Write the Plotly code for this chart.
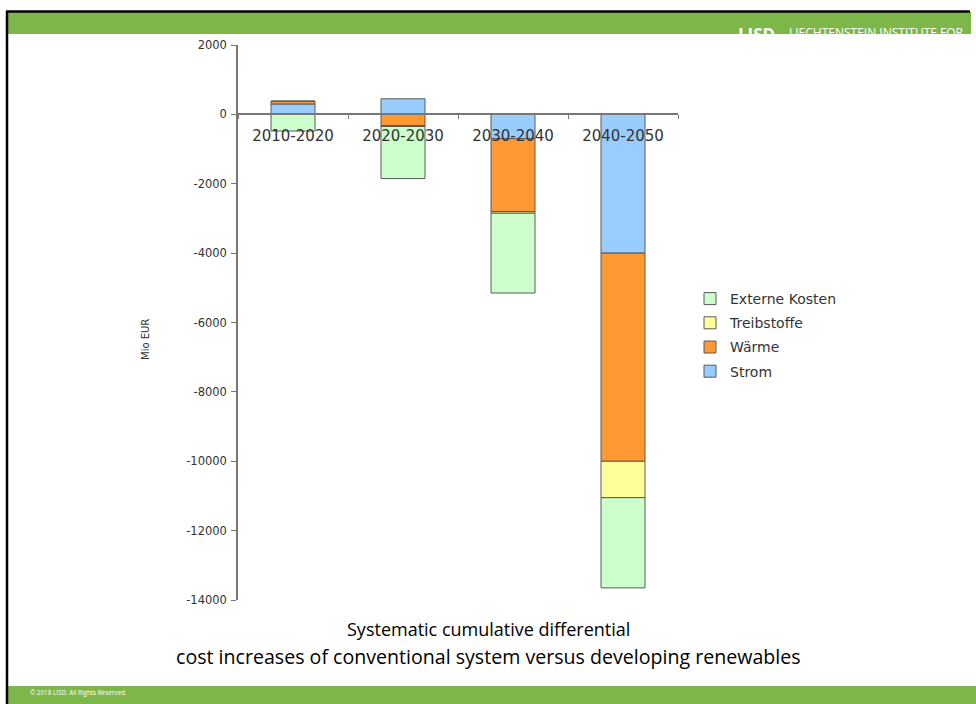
import plotly.graph_objects as go

W, H = 976, 704
ML, MR, MT, MB = 238, 298, 45, 104

categories = ["2010-2020", "2020-2030", "2030-2040", "2040-2050"]
series_names = ["Strom", "Wärme", "Treibstoffe", "Externe Kosten"]
strom = [300, 450, -700, -4000]
waerme = [80, -320, -2100, -6000]
treibstoffe = [0, -30, -50, -1050]
externe = [-480, -1500, -2300, -2600]
colors = ["#99CCFF", "#FF9933", "#FFFF99", "#CCFFCC"]
ytickvals = [2000, 0, -2000, -4000, -6000, -8000, -10000, -12000, -14000]
yticktext = ["2000", "0", "-2000", "-4000", "-6000", "-8000", "-10000", "-12000", "-14000"]

PW = W - ML - MR
PH = H - MT - MB


def px(x):
    return (x - ML) / PW


def py(y):
    return (H - MB - y) / PH


fig = go.Figure()
n = len(series_names)
for i, (name, vals, col) in enumerate(zip(series_names, [strom, waerme, treibstoffe, externe], colors)):
    fig.add_trace(go.Bar(
        x=categories, y=vals, name=name, legendgroup=name, legendrank=n - i,
        marker=dict(color=col, line=dict(color="#5a5a5a", width=1)),
    ))

fig.update_layout(
    width=W, height=H,
    margin=dict(l=ML, r=MR, t=MT, b=MB),
    paper_bgcolor="white", plot_bgcolor="white",
    barmode="relative", bargap=0.6,
    showlegend=True,
    legend=dict(
        traceorder="grouped", tracegroupgap=3,
        x=px(690), y=py(283), xanchor="left", yanchor="top",
        font=dict(family="DejaVu Sans", size=14, color="#333333"),
        bgcolor="rgba(0,0,0,0)", itemwidth=30,
    ),
    font=dict(family="DejaVu Sans", color="#333333"),
    xaxis=dict(
        type="category", range=[-0.5, 3.5], anchor="free", position=14000 / 16000,
        showline=True, linecolor="#777777", linewidth=1.5,
        ticks="outside", tickson="boundaries", ticklen=4, tickcolor="#777777",
        showgrid=False, tickfont=dict(family="DejaVu Sans", size=15, color="#333333"),
        ticklabelstandoff=8,
        layer="above traces",
    ),
    yaxis=dict(
        range=[-14000, 2000], tickvals=ytickvals, ticktext=yticktext,
        showline=True, linecolor="#777777", linewidth=1.5,
        ticks="outside", ticklen=5, tickcolor="#777777", showgrid=False, zeroline=False,
        tickfont=dict(family="DejaVu Sans", size=11.5, color="#333333"),
        ticklabelstandoff=2,
    ),
)

shapes = []
# top green bar
shapes.append(dict(type="rect", xref="paper", yref="paper", x0=px(8), x1=px(971), y0=py(34), y1=py(12),
                   fillcolor="#7EB749", line=dict(width=0), layer="below"))
# bottom green bar
shapes.append(dict(type="rect", xref="paper", yref="paper", x0=px(8), x1=px(976), y0=py(704), y1=py(686),
                   fillcolor="#7EB749", line=dict(width=0), layer="below"))
# black border top and left
shapes.append(dict(type="line", xref="paper", yref="paper", x0=px(6), x1=px(970), y0=py(11.5), y1=py(11.5),
                   line=dict(color="black", width=2.5)))
shapes.append(dict(type="line", xref="paper", yref="paper", x0=px(7), x1=px(7), y0=py(11), y1=py(704),
                   line=dict(color="black", width=2.5)))
fig.update_layout(shapes=shapes)

ann = []
ann.append(dict(text="<b>LISD</b>", x=px(736), y=py(21), xref="paper", yref="paper", xanchor="left", yanchor="top",
                showarrow=False, font=dict(family="Open Sans", size=17, color="white")))
ann.append(dict(text="LIECHTENSTEIN INSTITUTE FOR", x=px(787), y=py(22), xref="paper", yref="paper",
                xanchor="left", yanchor="top", showarrow=False,
                font=dict(family="Open Sans", size=12, color="white")))
ann.append(dict(text="© 2018 LISD. All Rights Reserved.", x=px(28), y=py(692), xref="paper", yref="paper",
                xanchor="left", yanchor="middle", showarrow=False,
                font=dict(family="Open Sans", size=6.3, color="white")))
ann.append(dict(text="Mio EUR", x=px(145), y=py(340), xref="paper", yref="paper", textangle=-90,
                xanchor="center", yanchor="middle",
                showarrow=False, font=dict(family="DejaVu Sans", size=10, color="#333333")))
ann.append(dict(text="Systematic cumulative differential", x=px(488), y=py(629), xref="paper", yref="paper",
                xanchor="center", yanchor="middle",
                showarrow=False, font=dict(family="Open Sans", size=18, color="black")))
ann.append(dict(text="cost increases of conventional system versus developing renewables", x=px(488), y=py(656),
                xref="paper", yref="paper", xanchor="center", yanchor="middle", showarrow=False,
                font=dict(family="Open Sans", size=19.6, color="black")))
fig.update_layout(annotations=ann)

fig.write_html("out.html", post_script="document.body.style.margin='0';",
               config={"displayModeBar": False})
